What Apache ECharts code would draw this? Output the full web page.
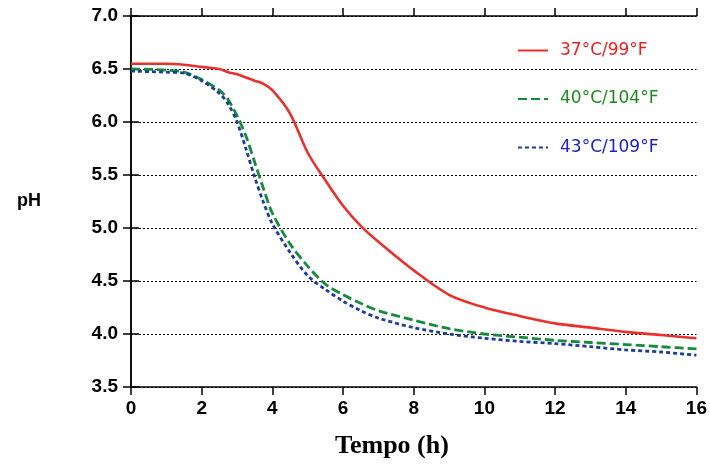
<!DOCTYPE html>
<html>
<head>
<meta charset="utf-8">
<script src="https://cdn.jsdelivr.net/npm/echarts@6/dist/echarts.min.js"></script>
<style>
  html, body { margin: 0; padding: 0; background: #fff; }
  #chart { width: 710px; height: 465px; }
</style>
</head>
<body>
<div id="chart"></div>
<script>
// Fermentation time (hours) and measured pH for each incubation temperature
const hours = [0, 1, 1.5, 2, 2.5, 2.75, 3, 3.25, 3.5, 3.75, 4, 4.5, 5, 5.5, 6, 6.5, 7, 8, 9, 10, 11, 12, 13, 14, 15, 16];
const ph37 = [6.55, 6.55, 6.54, 6.52, 6.50, 6.47, 6.45, 6.42, 6.39, 6.36, 6.30, 6.08, 5.71, 5.45, 5.21, 5.02, 4.87, 4.60, 4.37, 4.25, 4.17, 4.10, 4.06, 4.02, 3.99, 3.96];
const ph40 = [6.50, 6.49, 6.47, 6.40, 6.30, 6.21, 6.06, 5.87, 5.62, 5.37, 5.14, 4.85, 4.64, 4.47, 4.37, 4.29, 4.22, 4.13, 4.05, 4.00, 3.97, 3.94, 3.92, 3.90, 3.88, 3.86];
const ph43 = [6.48, 6.47, 6.46, 6.39, 6.27, 6.17, 6.00, 5.75, 5.48, 5.24, 5.04, 4.77, 4.55, 4.42, 4.31, 4.22, 4.15, 4.06, 4.00, 3.96, 3.93, 3.91, 3.88, 3.85, 3.83, 3.80];
const seriesNames = ['37°C/99°F', '40°C/104°F', '43°C/109°F'];
const lineColors = ['#e8302c', '#178a3e', '#1a3c9e'];
const labelColors = ['#f01e1e', '#1f8a1f', '#1e22c0'];

const pairs = arr => hours.map((h, i) => [h, arr[i]]);

const chart = echarts.init(document.getElementById('chart'), null, { renderer: 'canvas' });

const axisLineStyle = { color: '#000', width: 1.5 };
const tickFont = { color: '#000', fontFamily: 'Liberation Sans, Arial, sans-serif', fontWeight: 'bold', fontSize: 19 };

chart.setOption({
  animation: false,
  backgroundColor: '#fff',
  grid: { left: 131, right: 13, top: 16, bottom: 78, containLabel: false },
  legend: {
    orient: 'vertical',
    left: 512,
    top: 37,
    itemWidth: 30,
    itemHeight: 18,
    itemGap: 31.5,
    selectedMode: false,
    itemStyle: { opacity: 0 },
    textStyle: { fontFamily: 'DejaVu Sans, Verdana, sans-serif', fontSize: 17, padding: [0, 0, 0, 7] },
    data: seriesNames.map((n, i) => ({ name: n, textStyle: { color: labelColors[i] } }))
  },
  xAxis: [
    {
      type: 'value', min: 0, max: 16, interval: 2, position: 'bottom',
      axisLine: { lineStyle: axisLineStyle },
      axisTick: { show: true, length: 8, inside: false, lineStyle: axisLineStyle },
      axisLabel: Object.assign({ margin: 12 }, tickFont),
      splitLine: { show: false }
    },
    {
      type: 'value', min: 0, max: 16, interval: 2, position: 'top',
      axisLine: { show: true, lineStyle: axisLineStyle },
      axisTick: { show: true, length: 8, inside: false, lineStyle: axisLineStyle },
      axisLabel: { show: false },
      splitLine: { show: false }
    }
  ],
  yAxis: [
    {
      type: 'value', min: 3.5, max: 7, interval: 0.5, position: 'left',
      name: 'pH', nameLocation: 'middle', nameRotate: 0, nameGap: 90,
      nameTextStyle: { color: '#000', fontFamily: 'Liberation Sans, Arial, sans-serif', fontWeight: 'bold', fontSize: 18 },
      axisLine: { show: true, lineStyle: axisLineStyle },
      axisTick: { show: true, length: 8, inside: false, lineStyle: axisLineStyle },
      axisLabel: Object.assign({ margin: 13, formatter: v => v.toFixed(1) }, tickFont),
      splitLine: { show: true, lineStyle: { color: '#000', width: 1, type: [2, 2] } }
    },
    {
      type: 'value', min: 3.5, max: 7, interval: 0.5, position: 'right',
      axisLine: { show: true, lineStyle: axisLineStyle },
      axisTick: { show: true, length: 8, inside: false, lineStyle: axisLineStyle },
      axisLabel: { show: false },
      splitLine: { show: false }
    }
  ],
  graphic: [
    {
      type: 'text', left: 335, top: 433,
      style: { text: 'Tempo (h)', fill: '#000', font: 'bold 26px "Liberation Serif", "Times New Roman", serif' }
    }
  ],
  series: [
    { name: seriesNames[0], type: 'line', data: pairs(ph37), smooth: 0.3, symbol: 'none',
      lineStyle: { color: lineColors[0], width: 2.6, type: 'solid' }, itemStyle: { color: lineColors[0] } },
    { name: seriesNames[1], type: 'line', data: pairs(ph40), smooth: 0.3, symbol: 'none',
      lineStyle: { color: lineColors[1], width: 2.8, type: [9, 4] }, itemStyle: { color: lineColors[1] } },
    { name: seriesNames[2], type: 'line', data: pairs(ph43), smooth: 0.3, symbol: 'none',
      lineStyle: { color: lineColors[2], width: 2.8, type: [4, 3] }, itemStyle: { color: lineColors[2] } }
  ]
});
</script>
</body>
</html>
